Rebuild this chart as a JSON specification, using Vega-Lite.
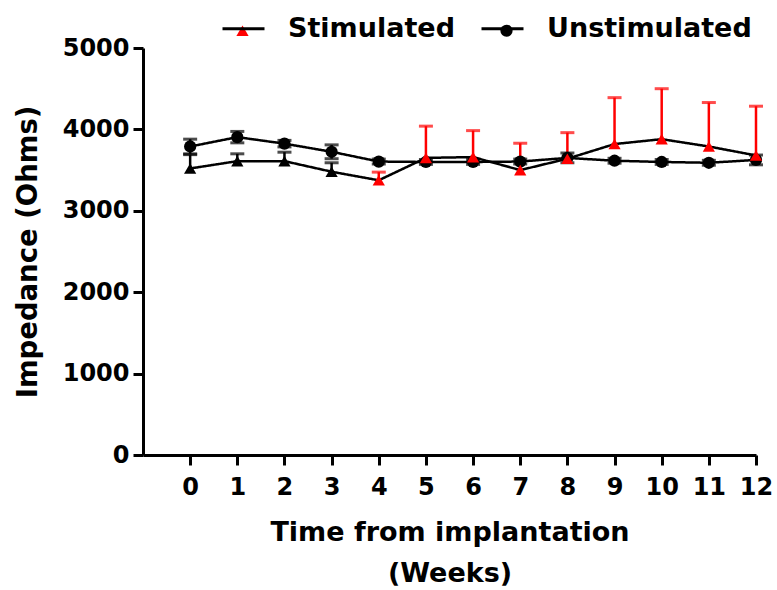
{
  "$schema": "https://vega.github.io/schema/vega-lite/v6.json",
  "autosize": {"type": "none"},
  "width": 613,
  "height": 407,
  "padding": {"left": 143, "top": 48, "right": 21, "bottom": 135},
  "background": "white",
  "config": {
    "view": {"stroke": null},
    "font": "DejaVu Sans",
    "axis": {
      "labelFont": "DejaVu Sans", "labelFontWeight": "bold", "labelFontSize": 24, "labelColor": "black",
      "titleFont": "DejaVu Sans", "titleFontWeight": "bold", "titleFontSize": 27, "titleColor": "black",
      "domainColor": "black", "domainWidth": 3, "tickColor": "black", "tickWidth": 3, "grid": false
    },
    "legend": {
      "labelFont": "DejaVu Sans", "labelFontWeight": "bold", "labelFontSize": 27, "labelColor": "black", "labelLimit": 400, "symbolOpacity": 1
    }
  },
  "data": {"values": [
    {"week": 0, "group": "Unstimulated", "series": "Unstimulated", "mean": 3790, "lo": 3700, "hi": 3880},
    {"week": 1, "group": "Unstimulated", "series": "Unstimulated", "mean": 3905, "lo": 3835, "hi": 3975},
    {"week": 2, "group": "Unstimulated", "series": "Unstimulated", "mean": 3825, "lo": 3785, "hi": 3865},
    {"week": 3, "group": "Unstimulated", "series": "Unstimulated", "mean": 3725, "lo": 3640, "hi": 3810},
    {"week": 4, "group": "Unstimulated", "series": "Unstimulated", "mean": 3605, "lo": 3575, "hi": 3635},
    {"week": 5, "group": "Unstimulated", "series": "Unstimulated", "mean": 3600, "lo": 3570, "hi": 3630},
    {"week": 6, "group": "Unstimulated", "series": "Unstimulated", "mean": 3600, "lo": 3570, "hi": 3630},
    {"week": 7, "group": "Unstimulated", "series": "Unstimulated", "mean": 3605, "lo": 3575, "hi": 3635},
    {"week": 8, "group": "Unstimulated", "series": "Unstimulated", "mean": 3650, "lo": 3590, "hi": 3710},
    {"week": 9, "group": "Unstimulated", "series": "Unstimulated", "mean": 3615, "lo": 3585, "hi": 3645},
    {"week": 10, "group": "Unstimulated", "series": "Unstimulated", "mean": 3600, "lo": 3570, "hi": 3630},
    {"week": 11, "group": "Unstimulated", "series": "Unstimulated", "mean": 3590, "lo": 3560, "hi": 3620},
    {"week": 12, "group": "Unstimulated", "series": "Unstimulated", "mean": 3625, "lo": 3565, "hi": 3685},
    {"week": 0, "group": "Stimulated", "series": "Stimulated", "mean": 3520, "lo": 3520, "hi": 3690},
    {"week": 1, "group": "Stimulated", "series": "Stimulated", "mean": 3610, "lo": 3610, "hi": 3700},
    {"week": 2, "group": "Stimulated", "series": "Stimulated", "mean": 3610, "lo": 3610, "hi": 3720},
    {"week": 3, "group": "Stimulated", "series": "Stimulated", "mean": 3480, "lo": 3480, "hi": 3590},
    {"week": 4, "group": "Stimulated", "series": "Stimulated", "mean": 3375, "lo": 3375, "hi": 3475},
    {"week": 5, "group": "Stimulated", "series": "Stimulated", "mean": 3650, "lo": 3650, "hi": 4040},
    {"week": 6, "group": "Stimulated", "series": "Stimulated", "mean": 3660, "lo": 3660, "hi": 3985},
    {"week": 7, "group": "Stimulated", "series": "Stimulated", "mean": 3500, "lo": 3500, "hi": 3830},
    {"week": 8, "group": "Stimulated", "series": "Stimulated", "mean": 3640, "lo": 3640, "hi": 3960},
    {"week": 9, "group": "Stimulated", "series": "Stimulated", "mean": 3820, "lo": 3820, "hi": 4390},
    {"week": 10, "group": "Stimulated", "series": "Stimulated", "mean": 3880, "lo": 3880, "hi": 4500},
    {"week": 11, "group": "Stimulated", "series": "Stimulated", "mean": 3790, "lo": 3790, "hi": 4330},
    {"week": 12, "group": "Stimulated", "series": "Stimulated", "mean": 3680, "lo": 3680, "hi": 4285}
  ]},
  "encoding": {
    "x": {
      "field": "week", "type": "quantitative",
      "scale": {"domain": [-1, 12], "nice": false, "zero": false},
      "axis": {"values": [0,1,2,3,4,5,6,7,8,9,10,11,12], "tickSize": 10, "labelPadding": 10, "title": ["Time from implantation", "(Weeks)"], "titleLineHeight": 41, "titlePadding": 20, "labelFlush": false}
    }
  },
  "layer": [
    {
      "mark": {"type": "rule", "strokeWidth": 2.5},
      "encoding": {
        "y": {"field": "lo", "type": "quantitative"},
        "y2": {"field": "hi"},
        "color": {"field": "group", "type": "nominal", "scale": {"domain": ["Stimulated", "Unstimulated"], "range": ["#ff0000", "black"]}, "condition": {"test": "datum.group == 'Stimulated' && datum.week < 4", "value": "black"}}
      }
    },
    {
      "mark": {"type": "tick", "orient": "horizontal", "thickness": 3, "size": 14},
      "encoding": {
        "y": {"field": "hi", "type": "quantitative"},
        "color": {"field": "group", "type": "nominal", "condition": {"test": "datum.group == 'Stimulated' && datum.week < 4", "value": "black"}}
      }
    },
    {
      "transform": [{"filter": "datum.group == 'Unstimulated'"}],
      "mark": {"type": "tick", "orient": "horizontal", "thickness": 3, "size": 14, "color": "black"},
      "encoding": {
        "y": {"field": "lo", "type": "quantitative"}
      }
    },
    {
      "mark": {"type": "line", "color": "black", "strokeWidth": 2.5},
      "encoding": {
        "y": {"field": "mean", "type": "quantitative"},
        "strokeDash": {"field": "series", "type": "nominal", "scale": {"range": [[1, 0], [1, 0]]},
          "legend": {"orient": "none", "legendX": 78, "legendY": -42, "direction": "horizontal", "title": null, "symbolSize": 1764, "symbolStrokeWidth": 3, "symbolStrokeColor": "black", "labelOffset": 22, "columnPadding": 20}
        }
      }
    },
    {
      "mark": {"type": "point", "filled": true, "size": 150, "opacity": 1},
      "encoding": {
        "y": {
          "field": "mean", "type": "quantitative",
          "scale": {"domain": [0, 5000], "nice": false},
          "axis": {"values": [0,1000,2000,3000,4000,5000], "format": "d", "tickSize": 10, "labelPadding": 4, "title": "Impedance (Ohms)", "titleFontSize": 27.5, "titlePadding": 20}
        },
        "shape": {"field": "group", "type": "nominal", "scale": {"domain": ["Stimulated", "Unstimulated"], "range": ["triangle-up", "circle"]},
          "legend": {"orient": "none", "legendX": 86, "legendY": -31, "direction": "horizontal", "title": null, "symbolSize": 150, "symbolStrokeWidth": 0, "labelExpr": "''", "labelOffset": 0, "columnPadding": 237}
        },
        "color": {"field": "group", "type": "nominal", "condition": {"test": "datum.group == 'Stimulated' && datum.week < 4", "value": "black"}}
      }
    }
  ]
}
